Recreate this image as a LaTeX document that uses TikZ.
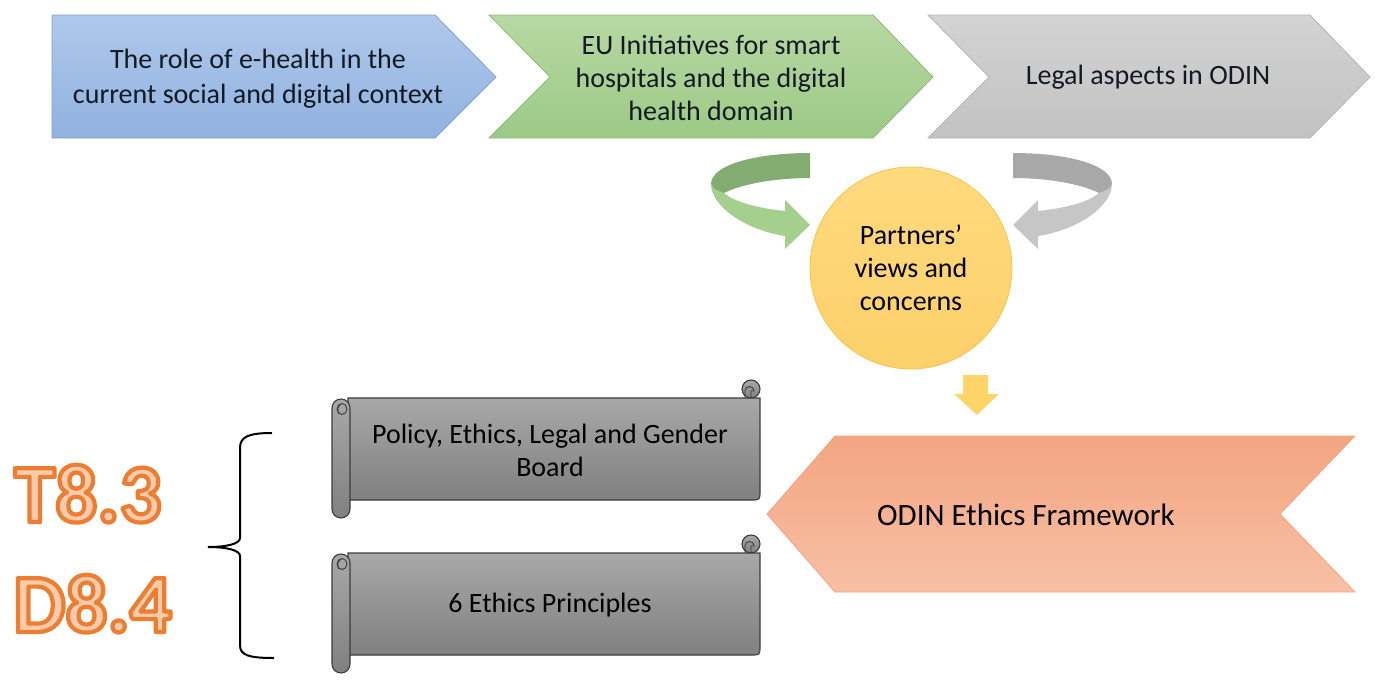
\documentclass[tikz,border=0pt]{standalone}
\usepackage{fontspec}
\setmainfont{Carlito}
\definecolor{bluetop}{HTML}{AFC8EB}
\definecolor{bluebot}{HTML}{90B2DF}
\definecolor{blueedge}{HTML}{7EA2D0}
\definecolor{greentop}{HTML}{B7D8A3}
\definecolor{greenbot}{HTML}{9CCA86}
\definecolor{greenedge}{HTML}{8CBC76}
\definecolor{graytop}{HTML}{D3D3D3}
\definecolor{graybot}{HTML}{C2C2C2}
\definecolor{grayedge}{HTML}{B5B5B5}
\definecolor{orangetop}{HTML}{F3A582}
\definecolor{orangebot}{HTML}{F7C0A5}
\definecolor{orangeedge}{HTML}{F2A37E}
\definecolor{circtop}{HTML}{FFDA7E}
\definecolor{circbot}{HTML}{FCD06A}
\definecolor{circedge}{HTML}{F4C548}
\definecolor{yarrow}{HTML}{FFD568}
\definecolor{scrolltop}{HTML}{A8A8A8}
\definecolor{scrollbot}{HTML}{808080}
\definecolor{scrolledge}{HTML}{3C3C3C}
\definecolor{gbackc}{HTML}{83AC73}
\definecolor{gfrontc}{HTML}{A4CF8D}
\definecolor{ybackc}{HTML}{A8A8A8}
\definecolor{yfrontc}{HTML}{C6C6C6}
\definecolor{codefill}{HTML}{F8CBAD}
\definecolor{txtdark}{HTML}{141A24}
\tikzset{
  lbl/.style={align=center, text=txtdark, font=\fontsize{28}{33}\selectfont, inner sep=0pt},
  chev/.style={draw=#1edge, line width=0.8pt, top color=#1top, bottom color=#1bot},
  scrollfill/.style={draw=scrolledge, line width=1.1pt, top color=scrolltop, bottom color=scrollbot},
  codetxt/.style={font=\fontsize{83}{83}\selectfont\bfseries, anchor=base west, inner sep=0pt, text=codefill},
}
\newcommand\myscroll[1]{%
  \begin{scope}[yshift=-#1pt]
    \path[scrollfill] (751,389) circle[radius=9];
    \path[scrollfill] (348,398) -- (760,398) -- (760,491)
      .. controls (760,500) .. (751,500) -- (348,500) -- cycle;
    \draw[scrolledge, line width=0.9pt] (745,398) -- (745,391)
      .. controls (745,385) and (754,385) .. (754,391) -- (751,391) -- (751,398);
    \path[scrollfill, rounded corners=9pt] (332,399) rectangle (350,518);
    \draw[scrolledge, line width=0.9pt] (342,409) ellipse[x radius=5, y radius=5.5];
    \draw[scrolledge, line width=0.9pt] (339,414) .. controls (337,408) .. (341,404);
  \end{scope}}
\newcommand\mycurved[2]{%
  \path[fill=#1] (810,153) .. controls (755,153) and (711,165) .. (711,184)
     .. controls (713,190) and (719,193) .. (724,193)
     .. controls (742,184) and (775,178) .. (810,178) -- cycle;
  \path[fill=#2] (711,184) .. controls (711,206) and (745,230) .. (785,236)
     -- (785,249) -- (810,225) -- (785,200) -- (785,211)
     .. controls (755,208) and (733,201) .. (724,193)
     .. controls (718,191) and (711,188) .. (711,184) -- cycle;}
\newcommand\outl[1]{\special{pdf:code 2 Tr 4.2 w 1 j 0.929 0.490 0.192 RG}#1\special{pdf:code 0 Tr 0.4 w}}
\begin{document}
\begin{tikzpicture}[x=1pt,y=-1pt]
\useasboundingbox (0,0) rectangle (1379,681);
% top row
\path[chev=blue] (52,15) -- (435,15) -- (496,77) -- (435,138) -- (52,138) -- cycle;
\path[chev=green] (489,15) -- (873,15) -- (933,77) -- (873,138) -- (489,138) -- (550,77) -- cycle;
\path[chev=gray] (928,15) -- (1310,15) -- (1370,77) -- (1310,138) -- (928,138) -- (989,77) -- cycle;
\node[lbl, font=\fontsize{28}{35}\selectfont] (role) at (258,79) {The role of e-health in the\\current social and digital context};
\node[lbl] (eu) at (711,78) {EU Initiatives for smart\\hospitals and the digital\\health domain};
\node[lbl] (legal) at (1148,77) {Legal aspects in ODIN};
% curved arrows
\mycurved{gbackc}{gfrontc}
\begin{scope}[xshift=1823pt, x=-1pt]
\mycurved{ybackc}{yfrontc}
\end{scope}
% circle
\node[circle, minimum size=202pt, draw=circedge, line width=0.8pt, top color=circtop, bottom color=circbot, lbl, text=black] (partners) at (911,268) {Partners'\\views and\\concerns};
% yellow down arrow
\path[fill=yarrow] (963,375) -- (988,375) -- (988,394) -- (999,394) -- (977,415) -- (954,394) -- (963,394) -- cycle;
% orange chevron
\path[chev=orange] (835,436) -- (1355,436) -- (1280,514) -- (1355,592) -- (835,592) -- (767,514) -- cycle;
\node[lbl, text=black, font=\fontsize{31}{36}\selectfont] (frame) at (1026,515) {ODIN Ethics Framework};
% scrolls
\myscroll{0}
\myscroll{155}
\node[lbl, text=black] (board) at (550,450) {Policy, Ethics, Legal and Gender\\Board};
\node[lbl, text=black] (six) at (550,605) {6 Ethics Principles};
% brace
\draw[line width=2pt, black] (272,433) .. controls (248,433) and (240,437) .. (240,448) -- (240,538)
  .. controls (240,544) and (226,547) .. (208,547)
  .. controls (226,547) and (240,550) .. (240,556) -- (240,645)
  .. controls (240,655) and (248,658) .. (274,658);
% codes
\node[codetxt] (t83) at (14,522) {\outl{T8.3}};
\node[codetxt] (d84) at (13,632) {\outl{D8.4}};
\end{tikzpicture}
\end{document}
